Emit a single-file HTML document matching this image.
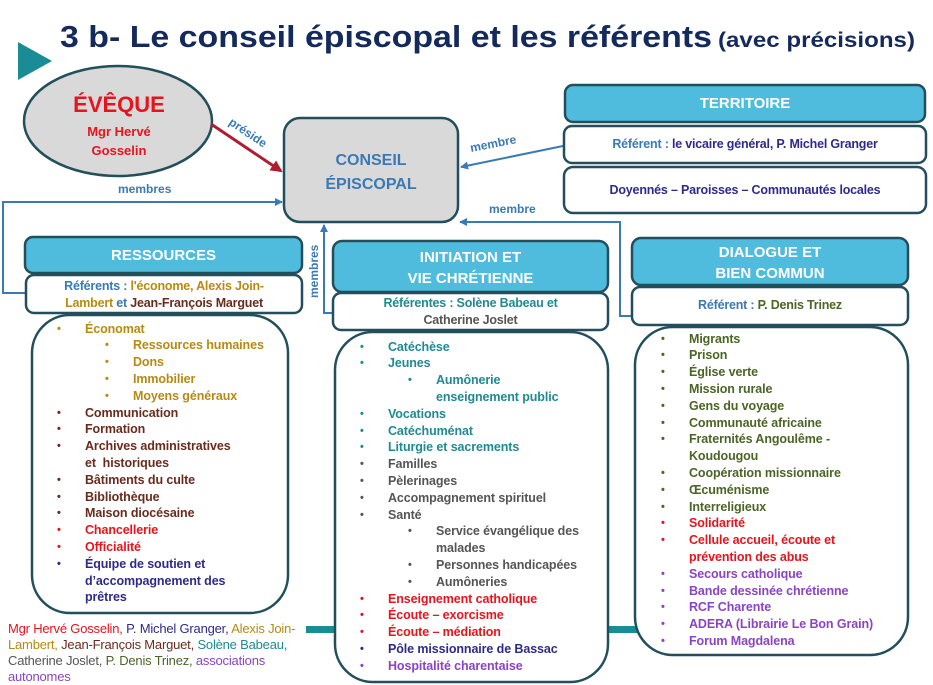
<!DOCTYPE html>
<html><head><meta charset="utf-8"><style>
*{margin:0;padding:0;box-sizing:border-box}
body{width:933px;height:685px;background:#fff;position:relative;overflow:hidden;font-family:"Liberation Sans",sans-serif;font-weight:bold}
.a{position:absolute;white-space:nowrap}
.list{position:absolute;font-size:12.5px;line-height:16.8px;letter-spacing:-0.1px}
.list div{position:relative;height:16.8px}
.list span.b{position:absolute;font-size:11px}
.c{text-align:center}
.gold{color:#b88a14}.brown{color:#6a2b1c}.red{color:#e8141c}.navy{color:#2e2a8c}.teal{color:#1f8a92}.gray{color:#555}.green{color:#4b6524}.purple{color:#8a44c4}.blue{color:#3a7ab4}
</style></head><body>
<svg width="933" height="685" style="position:absolute;left:0;top:0">
<defs>
<marker id="ab" markerWidth="8" markerHeight="8" refX="7" refY="4" orient="auto" markerUnits="userSpaceOnUse"><path d="M0,0 L8,4 L0,8 z" fill="#3a7ab4"/></marker>
<marker id="ar" markerWidth="12" markerHeight="12" refX="10" refY="6" orient="auto" markerUnits="userSpaceOnUse"><path d="M0,0 L12,6 L0,12 z" fill="#b01c30"/></marker>
</defs>
<polygon points="18,42 52,61 18,80" fill="#1a8c96"/>
<rect x="306" y="626" width="334" height="7" fill="#1a8c96"/>
<ellipse cx="118" cy="121" rx="94" ry="55" fill="#d9d9d9" stroke="#234e5c" stroke-width="2.5"/>
<line x1="211" y1="124" x2="281" y2="171" stroke="#b01c30" stroke-width="3" marker-end="url(#ar)"/>
<rect x="284" y="118" width="174" height="104" rx="16" fill="#d9d9d9" stroke="#234e5c" stroke-width="2.5"/>
<polyline points="26,293 3,293 3,202 282,202" fill="none" stroke="#3a7ab4" stroke-width="2" marker-end="url(#ab)"/>
<polyline points="333,313 324,313 324,225" fill="none" stroke="#3a7ab4" stroke-width="2" marker-end="url(#ab)"/>
<polyline points="632,316 620,316 620,222 460,222" fill="none" stroke="#3a7ab4" stroke-width="2" marker-end="url(#ab)"/>
<line x1="563" y1="146" x2="461" y2="167" stroke="#3a7ab4" stroke-width="2" marker-end="url(#ab)"/>
<g stroke="#234e5c" stroke-width="2.5">
<rect x="565" y="85" width="360" height="37" rx="8" fill="#4fbcdd"/>
<rect x="564" y="126" width="362" height="37" rx="8" fill="#fff"/>
<rect x="564" y="167" width="362" height="46" rx="9" fill="#fff"/>
<rect x="25" y="237" width="277" height="36" rx="8" fill="#4fbcdd"/>
<rect x="26" y="275" width="276" height="38" rx="8" fill="#fff"/>
<rect x="32" y="315" width="256" height="298" rx="38" fill="#fff"/>
<rect x="333" y="241" width="275" height="51" rx="9" fill="#4fbcdd"/>
<rect x="333" y="293" width="275" height="37" rx="8" fill="#fff"/>
<rect x="335" y="332" width="273" height="350" rx="38" fill="#fff"/>
<rect x="632" y="238" width="276" height="47" rx="9" fill="#4fbcdd"/>
<rect x="632" y="287" width="276" height="38" rx="8" fill="#fff"/>
<rect x="635" y="327" width="273" height="328" rx="38" fill="#fff"/>
</g>
<text x="60" y="47" font-family="Liberation Sans" font-weight="bold" font-size="31" fill="#152a5c" textLength="652" lengthAdjust="spacingAndGlyphs">3 b- Le conseil épiscopal et les référents</text>
<text x="718" y="47" font-family="Liberation Sans" font-weight="bold" font-size="21" fill="#152a5c" textLength="197" lengthAdjust="spacingAndGlyphs">(avec précisions)</text>
<text transform="translate(228,124) rotate(34)" font-family="Liberation Sans" font-weight="bold" font-size="12" fill="#3a7ab4">préside</text>
<text transform="translate(471,152) rotate(-11)" font-family="Liberation Sans" font-weight="bold" font-size="12" fill="#3a7ab4">membre</text>
<text x="118" y="193" font-family="Liberation Sans" font-weight="bold" font-size="12" fill="#3a7ab4">membres</text>
<text x="489" y="213" font-family="Liberation Sans" font-weight="bold" font-size="12" fill="#3a7ab4">membre</text>
<text transform="translate(318,298) rotate(-90)" font-family="Liberation Sans" font-weight="bold" font-size="12" fill="#3a7ab4">membres</text>
</svg>

<div class="a c red" style="left:24px;top:92px;width:190px;font-size:22px">ÉVÊQUE</div>
<div class="a c red" style="left:24px;top:122px;width:190px;font-size:13px;line-height:19px">Mgr Hervé<br>Gosselin</div>
<div class="a c blue" style="left:284px;top:149px;width:174px;font-size:16px;line-height:24px">CONSEIL<br>ÉPISCOPAL</div>

<div class="a c" style="left:565px;top:95px;width:360px;font-size:15px;color:#fff">TERRITOIRE</div>
<div class="a c navy" style="left:564px;top:137px;width:362px;font-size:12.5px;letter-spacing:-0.2px"><span class="blue">Référent : </span>le vicaire général, P. Michel Granger</div>
<div class="a c navy" style="left:564px;top:183px;width:362px;font-size:12.5px;letter-spacing:-0.2px">Doyennés – Paroisses – Communautés locales</div>

<div class="a c" style="left:25px;top:247px;width:277px;font-size:15px;color:#fff">RESSOURCES</div>
<div class="a c" style="left:26px;top:278px;width:276px;font-size:12.5px;line-height:17px;letter-spacing:-0.2px"><span class="blue">Référents : </span><span class="gold">l'économe, Alexis Join-<br>Lambert</span> <span class="blue">et</span> <span class="brown">Jean-François Marguet</span></div>

<div class="a c" style="left:333px;top:247px;width:275px;font-size:15px;line-height:21px;color:#fff">INITIATION ET<br>VIE CHRÉTIENNE</div>
<div class="a c" style="left:333px;top:295px;width:275px;font-size:12.5px;line-height:17px;letter-spacing:-0.2px"><span class="teal">Référentes : Solène Babeau et</span><br><span class="gray">Catherine Joslet</span></div>

<div class="a c" style="left:632px;top:242px;width:276px;font-size:15px;line-height:21px;color:#fff">DIALOGUE ET<br>BIEN COMMUN</div>
<div class="a c" style="left:632px;top:298px;width:276px;font-size:12.5px;letter-spacing:-0.2px"><span class="blue">Référent : </span><span class="green">P. Denis Trinez</span></div>

<div class="list" style="left:57px;top:320.6px">
<div class="gold"><span class="b" style="left:0">•</span><span style="margin-left:28px">Économat</span></div>
<div class="gold"><span class="b" style="left:48px">•</span><span style="margin-left:76px">Ressources humaines</span></div>
<div class="gold"><span class="b" style="left:48px">•</span><span style="margin-left:76px">Dons</span></div>
<div class="gold"><span class="b" style="left:48px">•</span><span style="margin-left:76px">Immobilier</span></div>
<div class="gold"><span class="b" style="left:48px">•</span><span style="margin-left:76px">Moyens généraux</span></div>
<div class="brown"><span class="b">•</span><span style="margin-left:28px">Communication</span></div>
<div class="brown"><span class="b">•</span><span style="margin-left:28px">Formation</span></div>
<div class="brown"><span class="b">•</span><span style="margin-left:28px">Archives administratives</span></div>
<div class="brown"><span style="margin-left:28px">et&nbsp; historiques</span></div>
<div class="brown"><span class="b">•</span><span style="margin-left:28px">Bâtiments du culte</span></div>
<div class="brown"><span class="b">•</span><span style="margin-left:28px">Bibliothèque</span></div>
<div class="brown"><span class="b">•</span><span style="margin-left:28px">Maison diocésaine</span></div>
<div class="red"><span class="b">•</span><span style="margin-left:28px">Chancellerie</span></div>
<div class="red"><span class="b">•</span><span style="margin-left:28px">Officialité</span></div>
<div class="navy"><span class="b">•</span><span style="margin-left:28px">Équipe de soutien et</span></div>
<div class="navy"><span style="margin-left:28px">d’accompagnement des</span></div>
<div class="navy"><span style="margin-left:28px">prêtres</span></div>
</div>

<div class="list" style="left:360px;top:338.6px">
<div class="teal"><span class="b">•</span><span style="margin-left:28px">Catéchèse</span></div>
<div class="teal"><span class="b">•</span><span style="margin-left:28px">Jeunes</span></div>
<div class="teal"><span class="b" style="left:48px">•</span><span style="margin-left:76px">Aumônerie</span></div>
<div class="teal"><span style="margin-left:76px">enseignement public</span></div>
<div class="teal"><span class="b">•</span><span style="margin-left:28px">Vocations</span></div>
<div class="teal"><span class="b">•</span><span style="margin-left:28px">Catéchuménat</span></div>
<div class="teal"><span class="b">•</span><span style="margin-left:28px">Liturgie et sacrements</span></div>
<div class="gray"><span class="b">•</span><span style="margin-left:28px">Familles</span></div>
<div class="gray"><span class="b">•</span><span style="margin-left:28px">Pèlerinages</span></div>
<div class="gray"><span class="b">•</span><span style="margin-left:28px">Accompagnement spirituel</span></div>
<div class="gray"><span class="b">•</span><span style="margin-left:28px">Santé</span></div>
<div class="gray"><span class="b" style="left:48px">•</span><span style="margin-left:76px">Service évangélique des</span></div>
<div class="gray"><span style="margin-left:76px">malades</span></div>
<div class="gray"><span class="b" style="left:48px">•</span><span style="margin-left:76px">Personnes handicapées</span></div>
<div class="gray"><span class="b" style="left:48px">•</span><span style="margin-left:76px">Aumôneries</span></div>
<div class="red"><span class="b">•</span><span style="margin-left:28px">Enseignement catholique</span></div>
<div class="red"><span class="b">•</span><span style="margin-left:28px">Écoute – exorcisme</span></div>
<div class="red"><span class="b">•</span><span style="margin-left:28px">Écoute – médiation</span></div>
<div class="navy"><span class="b">•</span><span style="margin-left:28px">Pôle missionnaire de Bassac</span></div>
<div class="purple"><span class="b">•</span><span style="margin-left:28px">Hospitalité charentaise</span></div>
</div>

<div class="list" style="left:661px;top:330.6px">
<div class="green"><span class="b">•</span><span style="margin-left:28px">Migrants</span></div>
<div class="green"><span class="b">•</span><span style="margin-left:28px">Prison</span></div>
<div class="green"><span class="b">•</span><span style="margin-left:28px">Église verte</span></div>
<div class="green"><span class="b">•</span><span style="margin-left:28px">Mission rurale</span></div>
<div class="green"><span class="b">•</span><span style="margin-left:28px">Gens du voyage</span></div>
<div class="green"><span class="b">•</span><span style="margin-left:28px">Communauté africaine</span></div>
<div class="green"><span class="b">•</span><span style="margin-left:28px">Fraternités Angoulême -</span></div>
<div class="green"><span style="margin-left:28px">Koudougou</span></div>
<div class="green"><span class="b">•</span><span style="margin-left:28px">Coopération missionnaire</span></div>
<div class="green"><span class="b">•</span><span style="margin-left:28px">Œcuménisme</span></div>
<div class="green"><span class="b">•</span><span style="margin-left:28px">Interreligieux</span></div>
<div class="red"><span class="b">•</span><span style="margin-left:28px">Solidarité</span></div>
<div class="red"><span class="b">•</span><span style="margin-left:28px">Cellule accueil, écoute et</span></div>
<div class="red"><span style="margin-left:28px">prévention des abus</span></div>
<div class="purple"><span class="b">•</span><span style="margin-left:28px">Secours catholique</span></div>
<div class="purple"><span class="b">•</span><span style="margin-left:28px">Bande dessinée chrétienne</span></div>
<div class="purple"><span class="b">•</span><span style="margin-left:28px">RCF Charente</span></div>
<div class="purple"><span class="b">•</span><span style="margin-left:28px">ADERA (Librairie Le Bon Grain)</span></div>
<div class="purple"><span class="b">•</span><span style="margin-left:28px">Forum Magdalena</span></div>
</div>

<div class="a" style="left:8px;top:621px;width:292px;white-space:normal;font-weight:normal;font-size:13px;line-height:16px;letter-spacing:-0.2px">
<span class="red">Mgr Hervé Gosselin,</span> <span class="navy">P. Michel Granger,</span> <span class="gold">Alexis Join-Lambert,</span> <span class="brown">Jean-François Marguet,</span> <span class="teal">Solène Babeau,</span> <span class="gray">Catherine Joslet,</span> <span class="green">P. Denis Trinez,</span> <span class="purple">associations autonomes</span>
</div>
</body></html>
